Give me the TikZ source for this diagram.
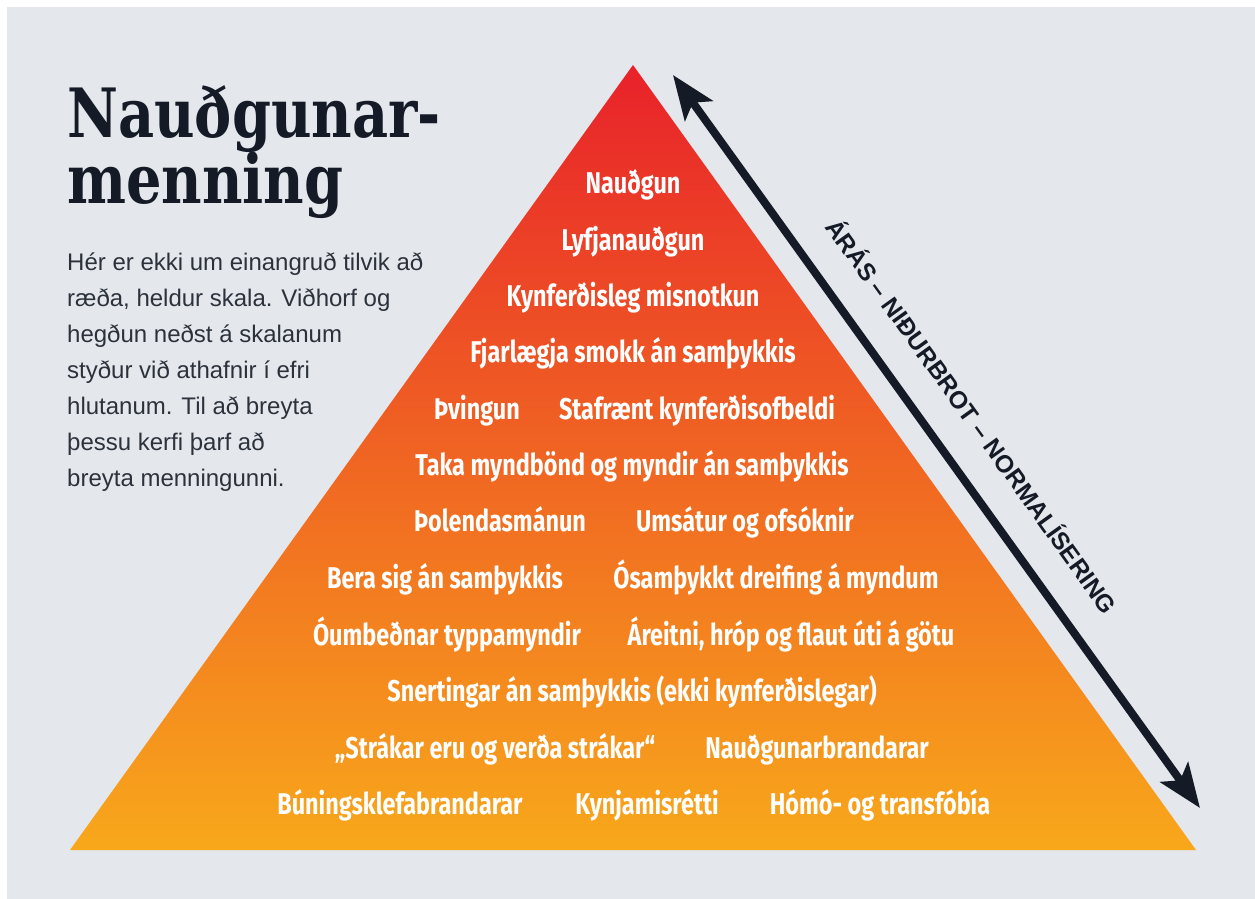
\documentclass[tikz,border=0pt]{standalone}
\usepackage{fontspec}
\usepackage{tikz}
\usetikzlibrary{arrows.meta}
\setmainfont{Liberation Sans}
\newfontfamily\titlefont[FakeStretch=0.82]{DejaVu Serif}
\newfontfamily\pyrfont[FakeStretch=0.78]{Fira Sans}
\definecolor{bggray}{HTML}{E4E8EC}
\definecolor{inkblue}{HTML}{141B26}
\definecolor{pyrtop}{HTML}{E8222A}
\definecolor{pyrmid}{HTML}{F0691F}
\definecolor{pyrbot}{HTML}{F8A81B}

\begin{document}
\begin{tikzpicture}[x=1pt,y=-1pt,
  titletext/.style={anchor=base west,inner sep=0pt,text=inkblue,font=\titlefont\bfseries\fontsize{68}{66}\selectfont},
  bodytext/.style={anchor=base west,inner sep=0pt,align=left,text=inkblue!90,font=\fontsize{24}{36}\selectfont},
  pyrlabel/.style={anchor=base,inner sep=0pt,text=white,font=\pyrfont\bfseries\fontsize{30}{30}\selectfont},
  arrowline/.style={line width=8pt,draw=inkblue,{Stealth[length=44pt,width=34pt,inset=10pt]}-{Stealth[length=44pt,width=34pt,inset=10pt]}}]

% canvas
\useasboundingbox (0,0) rectangle (1255,899);
\fill[white] (0,0) rectangle (1255,899);
\fill[bggray] (7,7) rectangle (1255,899);

% left column
\node[titletext] (title1) at (67,137) {Nauðgunar-};
\node[titletext] (title2) at (67,203) {menning};
\node[bodytext] (intro) at (67,486) {Hér er ekki um einangruð tilvik að\\
ræða, heldur skala. Viðhorf og\\
hegðun neðst á skalanum\\
styður við athafnir í efri\\
hlutanum. Til að breyta\\
þessu kerfi þarf að\\
breyta menningunni.};

% pyramid
\shade[top color=pyrtop,middle color=pyrmid,bottom color=pyrbot] (633,65) -- (1196,850) -- (70,850) -- cycle;

\node[pyrlabel] (l1) at (633,193) {Nauðgun};
\node[pyrlabel] (l2) at (633,250) {Lyfjanauðgun};
\node[pyrlabel] (l3) at (633,306) {Kynferðisleg misnotkun};
\node[pyrlabel] (l4) at (633,362) {Fjarlægja smokk án samþykkis};
\node[pyrlabel] (l5a) at (477,419) {Þvingun};
\node[pyrlabel] (l5b) at (697,419) {Stafrænt kynferðisofbeldi};
\node[pyrlabel] (l6) at (632,475) {Taka myndbönd og myndir án samþykkis};
\node[pyrlabel] (l7a) at (500,531) {Þolendasmánun};
\node[pyrlabel] (l7b) at (745,531) {Umsátur og ofsóknir};
\node[pyrlabel] (l8a) at (445,588) {Bera sig án samþykkis};
\node[pyrlabel] (l8b) at (776,588) {Ósamþykkt dreifing á myndum};
\node[pyrlabel] (l9a) at (447,645) {Óumbeðnar typpamyndir};
\node[pyrlabel] (l9b) at (791,645) {Áreitni, hróp og flaut úti á götu};
\node[pyrlabel] (l10) at (632,701) {Snertingar án samþykkis (ekki kynferðislegar)};
\node[pyrlabel] (l11a) at (495,758) {„Strákar eru og verða strákar“};
\node[pyrlabel] (l11b) at (817,758) {Nauðgunarbrandarar};
\node[pyrlabel] (l12a) at (400,814) {Búningsklefabrandarar};
\node[pyrlabel] (l12b) at (647,814) {Kynjamisrétti};
\node[pyrlabel] (l12c) at (880,814) {Hómó- og transfóbía};

% scale arrow
\coordinate (arrtop) at (673,75);
\coordinate (arrbot) at (1200,808);
\draw[arrowline] (arrtop) -- node[pos=0.5,sloped,above=30pt,inner sep=0pt,text=inkblue,font=\bfseries\fontsize{24.5}{24.5}\selectfont] (scalelabel) {ÁRÁS – NIÐURBROT – NORMALÍSERING} (arrbot);

\end{tikzpicture}
\end{document}
